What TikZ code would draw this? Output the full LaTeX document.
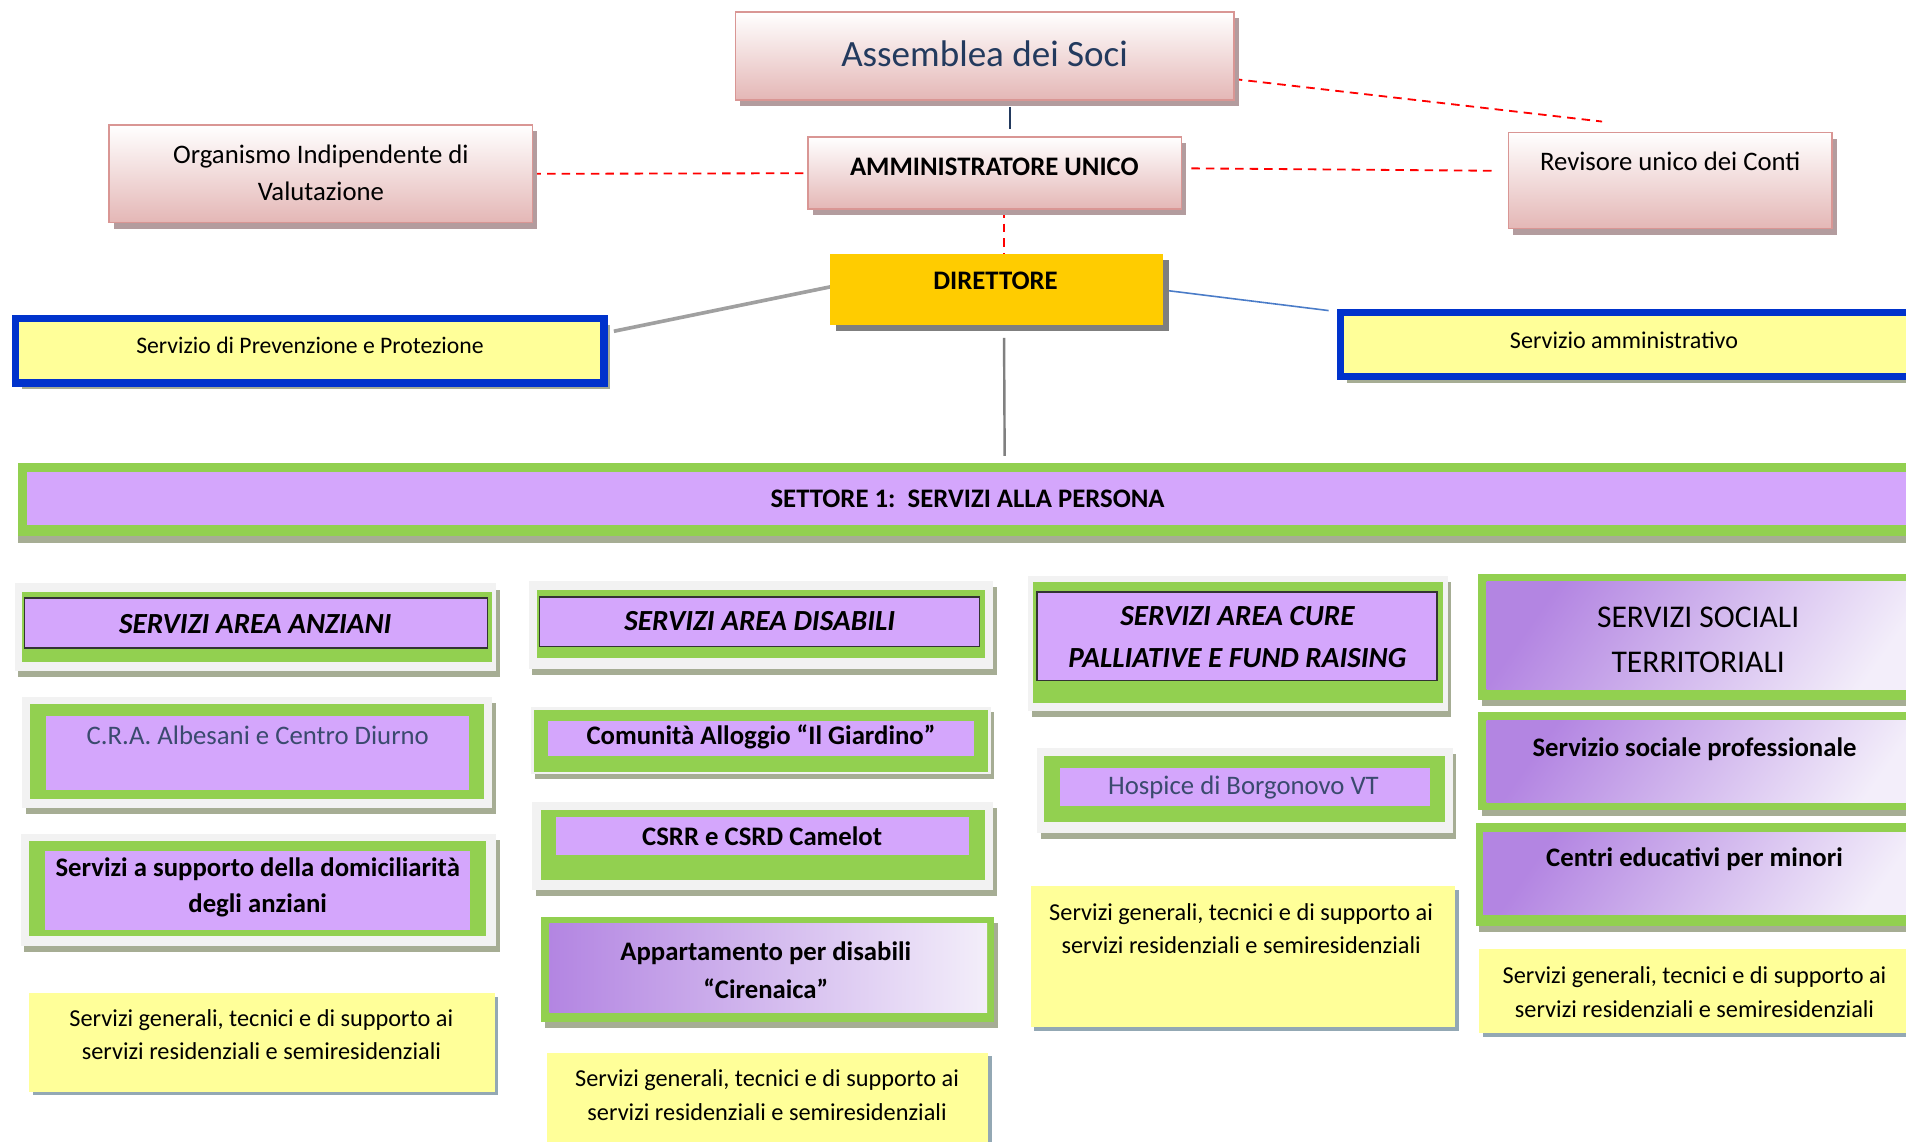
\documentclass[tikz,border=0pt]{standalone}
\usepackage{fontspec}
\setmainfont{Carlito}
\usetikzlibrary{calc}
\definecolor{pinktop}{HTML}{FFFFFF}
\definecolor{pinkbot}{HTML}{E4B7B6}
\definecolor{pinkborder}{HTML}{D99694}
\definecolor{pinkshadow}{HTML}{B39C9E}
\definecolor{reddash}{HTML}{FF0000}
\definecolor{dirfill}{HTML}{FFCC00}
\definecolor{dirshadow}{HTML}{7F7F7F}
\definecolor{bborder}{HTML}{0033CC}
\definecolor{yel}{HTML}{FFFF99}
\definecolor{greenshadow}{HTML}{A6AD94}
\definecolor{yshadow}{HTML}{93A8B4}
\definecolor{grn}{HTML}{92D050}
\definecolor{purp}{HTML}{D4A6FC}
\definecolor{frame}{HTML}{F2F2F2}
\definecolor{gdark}{HTML}{B385E2}
\definecolor{glight}{HTML}{F3EEFA}
\definecolor{navy}{HTML}{233A5E}
\definecolor{slate}{HTML}{3A4A6E}
\definecolor{greyline}{HTML}{A0A0A0}
\definecolor{blueline}{HTML}{4A7CC8}
\pgfdeclarelayer{bgpaper}
\pgfdeclarelayer{lines}
\pgfsetlayers{bgpaper,lines,main}
\newcommand\shbox[9]{%
  \fill[#1] ({#6+#2},{#7+#3}) rectangle ({#8+#2},{#9+#3});
  \node[boxbase,#4, minimum width={#8-#6}, minimum height={#9-#7}] (#5) at ({(#6+#8)/2},{(#7+#9)/2}) {};}
\newcommand\plbox[6]{%
  \node[boxbase,#1, minimum width={#5-#3}, minimum height={#6-#4}] (#2) at ({(#3+#5)/2},{(#4+#6)/2}) {};}
\newcommand\fsz[2]{\fontsize{#1}{#2}\selectfont}
\begin{document}
\begin{tikzpicture}[x=1pt,y=-1pt,
  boxbase/.style={rectangle, inner sep=0pt, outer sep=0pt},
  pinkbox/.style={draw=pinkborder, line width=1.5pt, top color=pinktop, bottom color=pinkbot},
  dirbox/.style={fill=dirfill},
  bluebox/.style={draw=bborder, line width=6pt, fill=yel},
  framebox/.style={fill=frame},
  greenbox/.style={fill=grn},
  purpbox/.style={fill=purp},
  purpline/.style={fill=purp, draw=black!80, line width=1.2pt},
  gradh/.style={left color=gdark, right color=glight},
  gradd/.style={top color=gdark, bottom color=glight, shading angle=55},
  yelbox/.style={fill=yel},
  tx/.style={inner sep=0pt, align=center},
  dashcon/.style={draw=reddash, line width=1.5pt, dash pattern=on 7pt off 5pt},
]
\clip (0,0) rectangle (1568,939);
\begin{pgfonlayer}{bgpaper}
\fill[white] (0,0) rectangle (1568,939);
\end{pgfonlayer}

% ---------- top boxes ----------
\shbox{pinkshadow}{4}{5}{pinkbox}{ass}{605}{10}{1015}{82}
\node[tx, font=\fsz{30.5}{36}, text=navy] (tass) at (810,44) {Assemblea dei Soci};

\shbox{pinkshadow}{4}{5}{pinkbox}{amm}{665}{113}{972}{172}
\node[tx, font=\fsz{22}{28}\bfseries] (tamm) at (818,137) {AMMINISTRATORE UNICO};

\shbox{pinkshadow}{4}{5}{pinkbox}{org}{90}{103}{438}{183}
\node[tx, font=\fsz{22}{30}] (torg) at (264,142) {Organismo Indipendente di\\Valutazione};

\shbox{pinkshadow}{4}{5}{pinkbox}{rev}{1241}{109}{1507}{188}
\node[tx, font=\fsz{22}{30}] (trev) at (1374,133) {Revisore unico dei Conti};

\shbox{dirshadow}{5}{5}{dirbox}{dir}{683}{209}{957}{267}
\node[tx, font=\fsz{22}{28}\bfseries] (tdir) at (819,231) {DIRETTORE};

\shbox{greenshadow}{5}{5}{bluebox}{prev}{13}{262}{497}{315}
\node[tx, font=\fsz{19.5}{26}] (tprev) at (255,284) {Servizio di Prevenzione e Protezione};

\shbox{greenshadow}{5}{5}{bluebox}{amv}{1103}{257}{1590}{310}
\node[tx, font=\fsz{19.8}{26}] (tamv) at (1336,280) {Servizio amministrativo};

% ---------- settore ----------
\shbox{greenshadow}{0}{6}{greenbox}{set}{15}{381}{1590}{441}
\plbox{purpbox}{setin}{22}{388}{1590}{432}
\node[tx, font=\fsz{22}{26}\bfseries] (tset) at (796,410) {SETTORE 1:\ \ SERVIZI ALLA PERSONA};

% ---------- column 1 ----------
\shbox{greenshadow}{3}{5}{framebox}{anzf}{12}{480}{408}{552}
\plbox{greenbox}{anzg}{18}{487}{405}{545}
\plbox{purpline}{anz}{20}{492}{401}{533}
\node[tx, font=\fsz{24}{32}\bfseries\itshape] (tanz) at (210,513) {SERVIZI AREA ANZIANI};

\shbox{greenshadow}{3}{5}{framebox}{craf}{18}{573}{405}{665}
\plbox{greenbox}{crag}{25}{579}{398}{657}
\plbox{purpbox}{cra}{38}{589}{386}{650}
\node[tx, font=\fsz{22}{28}, text=slate] (tcra) at (212,605) {C.R.A. Albesani e Centro Diurno};

\shbox{greenshadow}{3}{5}{framebox}{domf}{17}{686}{408}{778}
\plbox{greenbox}{domg}{24}{692}{400}{770}
\plbox{purpbox}{dom}{37}{700}{387}{765}
\node[tx, font=\fsz{22}{30}\bfseries] (tdom) at (212,730) {Servizi a supporto della domiciliarità\\degli anziani};

\shbox{yshadow}{3}{3}{yelbox}{y1}{24}{817}{407}{898}
\node[tx, font=\fsz{20}{27}] (ty1) at (215,851) {Servizi generali, tecnici e di supporto ai\\servizi residenziali e semiresidenziali};

% ---------- column 2 ----------
\shbox{greenshadow}{3}{5}{framebox}{disf}{435}{478}{817}{550}
\plbox{greenbox}{disg}{442}{485}{810}{541}
\plbox{purpline}{dis}{444}{491}{806}{532}
\node[tx, font=\fsz{24}{32}\bfseries\itshape] (tdis) at (625,511) {SERVIZI AREA DISABILI};

\shbox{greenshadow}{3}{4}{framebox}{comf}{437}{582}{815}{637}
\plbox{greenbox}{comg}{439}{584}{813}{635}
\plbox{purpbox}{com}{451}{593}{801}{622}
\node[tx, font=\fsz{22}{28}\bfseries] (tcom) at (626,606) {Comunità Alloggio “Il Giardino”};

\shbox{greenshadow}{3}{5}{framebox}{csrf}{438}{660}{817}{732}
\plbox{greenbox}{csrg}{445}{666}{810}{724}
\plbox{purpbox}{csr}{457}{672}{797}{703}
\node[tx, font=\fsz{22}{28}\bfseries] (tcsr) at (627,688) {CSRR e CSRD Camelot};

\shbox{greenshadow}{3}{5}{greenbox}{appg}{445}{754}{818}{841}
\plbox{gradh}{app}{452}{760}{812}{833}
\node[tx, font=\fsz{22}{31}\bfseries] (tapp) at (630,798) {Appartamento per disabili\\“Cirenaica”};

\shbox{yshadow}{3}{3}{yelbox}{y2}{450}{866}{813}{950}
\node[tx, font=\fsz{20}{28}] (ty2) at (631,901) {Servizi generali, tecnici e di supporto ai\\servizi residenziali e semiresidenziali};

% ---------- column 3 ----------
\shbox{greenshadow}{3}{5}{framebox}{curf}{846}{474}{1191}{585}
\plbox{greenbox}{curg}{850}{479}{1187}{578}
\plbox{purpline}{cur}{853}{487}{1182}{560}
\node[tx, font=\fsz{24}{34}\bfseries\itshape] (tcur) at (1018,524) {SERVIZI AREA CURE\\PALLIATIVE E FUND RAISING};

\shbox{greenshadow}{3}{5}{framebox}{hosf}{853}{615}{1195}{685}
\plbox{greenbox}{hosg}{859}{622}{1189}{676}
\plbox{purpbox}{hos}{872}{632}{1176}{663}
\node[tx, font=\fsz{22}{28}, text=slate] (thos) at (1023,648) {Hospice di Borgonovo VT};

\shbox{yshadow}{3}{3}{yelbox}{y3}{848}{729}{1197}{845}
\node[tx, font=\fsz{20}{27}] (ty3) at (1021,764) {Servizi generali, tecnici e di supporto ai\\servizi residenziali e semiresidenziali};

% ---------- column 4 ----------
\shbox{greenshadow}{3}{5}{greenbox}{sstg}{1216}{472}{1590}{576}
\plbox{gradd}{sst}{1223}{478}{1590}{567}
\node[tx, font=\fsz{26}{37}] (tsst) at (1397,526) {SERVIZI SOCIALI\\TERRITORIALI};

\shbox{greenshadow}{3}{5}{greenbox}{sspg}{1216}{586}{1590}{666}
\plbox{gradd}{ssp}{1223}{593}{1590}{660}
\node[tx, font=\fsz{22}{28}\bfseries] (tssp) at (1394,616) {Servizio sociale professionale};

\shbox{greenshadow}{3}{5}{greenbox}{cemg}{1214}{677}{1590}{762}
\plbox{gradd}{cem}{1220}{685}{1590}{752}
\node[tx, font=\fsz{22}{28}\bfseries] (tcem) at (1394,707) {Centri educativi per minori};

\shbox{yshadow}{3}{3}{yelbox}{y4}{1217}{781}{1590}{850}
\node[tx, font=\fsz{20}{28}] (ty4) at (1394,816) {Servizi generali, tecnici e di supporto ai\\servizi residenziali e semiresidenziali};

% ---------- connectors ----------
\coordinate (revtop) at (1318,100);
\begin{pgfonlayer}{lines}
\draw[navy, line width=1.3pt] ($(ass.south)+(21,6)$) -- ($(amm.north)+(12.5,-7)$);
\draw[dashcon] (org.east) -- (amm.west);
\draw[dashcon] ($(amm.east)+(8,-4)$) -- ($(rev.west)+(-11,-8)$);
\draw[dashcon] ($(ass.east)+(0,19)$) -- (revtop);
\draw[dashcon] ($(amm.south)+(7.5,0)$) -- ($(dir.north)+(6,0)$);
\draw[greyline, line width=3pt] ($(dir.west)+(0,-2)$) -- ($(prev.east)+(8,-16)$);
\draw[blueline, line width=1.3pt] ($(dir.east)+(3,1)$) -- ($(amv.west)+(-10,-28)$);
\draw[greyline!80!black, line width=2pt] ($(dir.south)+(6,11)$) -- ($(set.north)+(24,-6)$);
\end{pgfonlayer}
\end{tikzpicture}
\end{document}
